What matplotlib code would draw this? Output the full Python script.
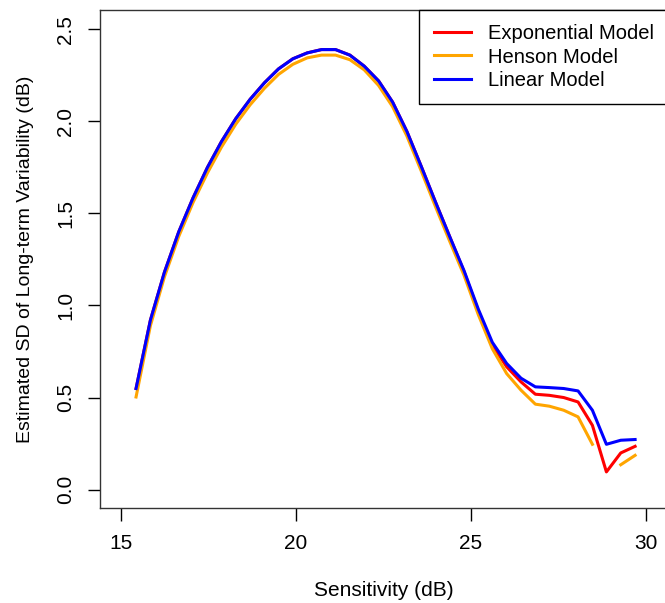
import numpy as np
import matplotlib
matplotlib.use("Agg")
import matplotlib.pyplot as plt

plt.rcParams["font.family"] = ["Liberation Sans", "DejaVu Sans"]

# sensitivity grid (dB)
sensitivity = [15.43, 15.84, 16.24, 16.65, 17.06, 17.47, 17.87, 18.28, 18.69, 19.10,
               19.50, 19.91, 20.32, 20.73, 21.13, 21.54, 21.95, 22.36, 22.76, 23.17,
               23.58, 23.99, 24.39, 24.80, 25.21, 25.61, 26.02, 26.43, 26.84, 27.24,
               27.65, 28.06, 28.47, 28.87, 29.28, 29.69]

exponential_sd = [0.549, 0.92, 1.18, 1.40, 1.585, 1.75, 1.89, 2.015, 2.12, 2.21,
                  2.285, 2.34, 2.372, 2.39, 2.39, 2.36, 2.30, 2.22, 2.105, 1.945,
                  1.755, 1.56, 1.375, 1.185, 0.97, 0.785, 0.667, 0.585, 0.518, 0.512,
                  0.50, 0.476, 0.349, 0.096, 0.199, 0.235]

henson_sd = [0.503, 0.89, 1.155, 1.375, 1.56, 1.72, 1.86, 1.985, 2.09, 2.18,
             2.255, 2.31, 2.345, 2.36, 2.36, 2.335, 2.28, 2.195, 2.08, 1.92,
             1.73, 1.535, 1.35, 1.165, 0.95, 0.765, 0.63, 0.54, 0.464, 0.453,
             0.431, 0.395, 0.246, np.nan, 0.135, 0.186]

linear_sd = [0.549, 0.92, 1.18, 1.40, 1.585, 1.75, 1.89, 2.015, 2.12, 2.21,
             2.285, 2.34, 2.372, 2.39, 2.39, 2.36, 2.30, 2.22, 2.105, 1.945,
             1.755, 1.56, 1.375, 1.19, 0.98, 0.80, 0.685, 0.605, 0.558, 0.554,
             0.549, 0.536, 0.431, 0.246, 0.268, 0.272]

x_ticks = [15, 20, 25, 30]
y_ticks = [0.0, 0.5, 1.0, 1.5, 2.0, 2.5]

fig = plt.figure(figsize=(6.65, 6.03), dpi=100)
ax = fig.add_axes([100 / 665, 95 / 603, 568 / 665, 498 / 603])

lw = 2.2
ax.plot(sensitivity, exponential_sd, color="red", lw=lw, label="Exponential Model")
ax.plot(sensitivity, henson_sd, color="orange", lw=lw, label="Henson Model")
ax.plot(sensitivity, linear_sd, color="blue", lw=lw, label="Linear Model")

ax.set_xlim(14.4, 30.63)
ax.set_ylim(-0.10, 2.605)
ax.set_xticks(x_ticks)
ax.set_xticklabels([str(t) for t in x_ticks])
ax.set_yticks(y_ticks)
ax.set_yticklabels([f"{t:.1f}" for t in y_ticks], rotation=90, va="center")
ax.tick_params(direction="out", length=9, width=1, labelsize=15, colors="black", pad=10)
ax.tick_params(axis="y", pad=9)
for side in ax.spines.values():
    side.set_color("#333333")
    side.set_linewidth(1)

ax.set_xlabel("Sensitivity (dB)", fontsize=15, labelpad=20)
ax.set_ylabel("Estimated SD of Long-term Variability (dB)", fontsize=14, labelpad=16)

leg = ax.legend(loc="upper right", borderaxespad=0, fancybox=False, framealpha=1,
                edgecolor="black", fontsize=14.5, handlelength=1.85, handletextpad=0.85,
                labelspacing=0.22, borderpad=0.7)
leg.get_frame().set_linewidth(1)

fig.savefig("out.png", dpi=100)
